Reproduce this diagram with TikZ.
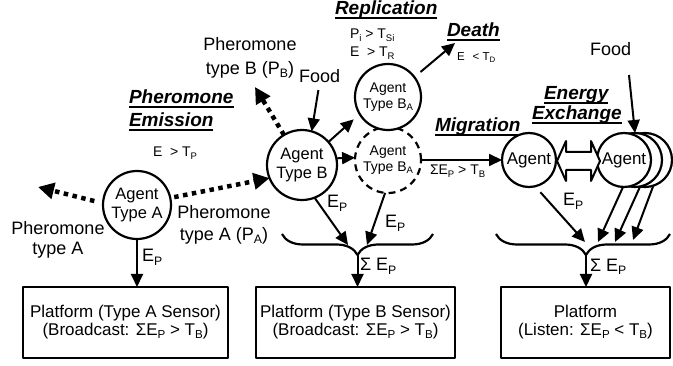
\documentclass[tikz,border=0pt]{standalone}
\usepackage{graphicx}
\usepackage{fontspec}
\setmainfont{Liberation Sans}
\usetikzlibrary{arrows.meta,decorations.pathreplacing,calc}
\newcommand\myul[1]{\setbox0=\hbox{#1}\leavevmode\rlap{\raisebox{-4.2pt}{\rule{\wd0}{1.7pt}}}\box0}
\newcommand\sbx[1]{\raisebox{-0.17em}{\scalebox{0.68}{#1}}}
\begin{document}
\begin{tikzpicture}[x=1pt,y=-1pt,line join=round,
  every node/.style={inner sep=0pt,outer sep=0pt},
  agent/.style={circle,draw,line width=2.2pt,fill=white,align=center},
  plat/.style={draw,line width=2.2pt,align=center,font=\fontsize{17}{18}\selectfont},
  arr/.style={line width=2pt,-{Triangle[length=13pt,width=12pt]}},
  dotarr/.style={line width=4.5pt,dash pattern=on 4.5pt off 4.5pt,-{Triangle[length=16pt,width=16pt]}},
  lab/.style={font=\fontsize{18}{20}\selectfont,align=center},
  act/.style={font=\fontsize{19}{23}\selectfont\bfseries\itshape,anchor=base west},
  cond/.style={font=\fontsize{14}{16}\selectfont,anchor=base west},
  ep/.style={font=\fontsize{18}{20}\selectfont,anchor=base west},
  bracestyle/.style={line width=2.2pt,decorate,decoration={brace,amplitude=21pt,mirror}}
]
\useasboundingbox (0,0) rectangle (673,366);

% agents
\node[agent,minimum size=68pt,font=\fontsize{16.5}{19}\selectfont] (A) at (137,205) {Agent\\Type A};
\node[agent,minimum size=70pt,font=\fontsize{16.5}{19}\selectfont] (B) at (302,165) {Agent\\Type B};
\node[agent,dash pattern=on 7pt off 5pt,minimum size=66pt,font=\fontsize{14}{16}\selectfont] (D) at (388,160) {Agent\\Type B\sbx{A}};
\node[agent,minimum size=66pt,font=\fontsize{14}{16}\selectfont] (BA) at (388,97) {Agent\\Type B\sbx{A}};
\node[agent,minimum size=54pt] (c3) at (645,160) {};
\node[agent,minimum size=54pt] (c2) at (635,160) {};
\node[agent,minimum size=54pt,font=\fontsize{17}{19}\selectfont] (G2) at (624,160) {Agent};
\node[agent,minimum size=54pt,font=\fontsize{17}{19}\selectfont] (G1) at (529,160) {Agent};

% platforms
\node[plat,minimum width=205pt,minimum height=71pt] (PA) at (125.5,322.5) {Platform (Type A Sensor)\\ (Broadcast: ΣE\sbx{P} > T\sbx{B})};
\node[plat,minimum width=199pt,minimum height=71pt] (PB) at (355.5,322.5) {Platform (Type B Sensor)\\(Broadcast: ΣE\sbx{P} > T\sbx{B})};
\node[plat,minimum width=169pt,minimum height=71pt] (PC) at (585.5,322.5) {Platform\\(Listen: ΣE\sbx{P} < T\sbx{B})};

% labels
\node[lab] (phA) at (58,239.5) {Pheromone\\type A};
\node[lab,font=\fontsize{18}{22}\selectfont] (phAB) at (224,224.5) {Pheromone\\type A (P\sbx{A})};
\node[lab,font=\fontsize{18}{24}\selectfont] (phB) at (250,58) {Pheromone\\type B (P\sbx{B})};
\node[ep] (foodB) at (299,83) {Food};
\node[ep] (foodR) at (590,56) {Food};
\node[act] (pe1) at (129,104) {\myul{Pheromone}};
\node[act] (pe2) at (129,127) {\myul{Emission}};
\node[cond] (ctp) at (153,157) {E\hspace{0.55em}> T\sbx{P}};
\node[act] (rep) at (335,15) {\myul{Replication}};
\node[cond] (cr1) at (350,39) {P\sbx{i} > T\sbx{Si}};
\node[cond] (cr2) at (350,56.7) {E\hspace{0.55em}> T\sbx{R}};
\node[act] (death) at (447,36.7) {\myul{Death}};
\node[cond,font=\fontsize{11.5}{13}\selectfont] (cd) at (457,61) {E\hspace{0.7em}< T\sbx{D}};
\node[act] (mig) at (435,131.7) {\myul{Migration}};
\node[act] (en1) at (544,100) {\myul{Energy}};
\node[act] (en2) at (532,120) {\myul{Exchange}};
\node[cond] (cmig) at (430,175) {ΣE\sbx{P} > T\sbx{B}};
\node[ep] (epA) at (142,262) {E\sbx{P}};
\node[ep] (epB1) at (327,208) {E\sbx{P}};
\node[ep] (epB2) at (385,228) {E\sbx{P}};
\node[ep] (epR) at (563,206) {E\sbx{P}};
\node[ep] (sum1) at (360,271) {Σ E\sbx{P}};
\node[ep] (sum2) at (590,271.5) {Σ E\sbx{P}};

% free ends
\coordinate (paL) at (38,187);
\coordinate (pbT) at (255,87);
\coordinate (deathEnd) at (455,43);
\coordinate (frS) at (629,75);
\coordinate (b1) at (348,245);
\coordinate (b2) at (367,245);
\coordinate (r1) at (585,242);
\coordinate (r2) at (598,242);
\coordinate (r3) at (615,242);
\coordinate (r4) at (633,240);
\coordinate (t1) at (357.5,255);
\coordinate (t2) at (586,255);

% braces
\draw[bracestyle] (282,234) -- (433,234);
\draw[bracestyle,decoration={aspect=0.517}] (496,234) -- (670,234);

% dotted pheromone arrows
\draw[dotarr,shorten <=9pt] (A.177) -- (paL);
\draw[dotarr,shorten <=4pt] (A.12) -- (B.202);
\draw[dotarr] (B.121) -- (pbT);

% solid arrows
\draw[arr] (A.south) -- (A.south |- PA.north);
\draw[arr,shorten <=7pt] (foodB.south) -- (B.74.5);
\draw[arr,shorten >=8pt] (B.41.5) -- (BA.211);
\draw[arr] (B.11.5) -- (D.176.5);
\draw[arr,shorten <=8pt] (BA.37) -- (deathEnd);
\draw[arr] (B.-69.6) -- (b1);
\draw[arr] (D.-95) -- (b2);
\draw[arr] (D.east) -- (G1.west);
\draw[arr] (frS) -- (c2.north);
\draw[arr,shorten <=8pt] (G1.-77) -- (r1);
\draw[arr] (G2.-92) -- (r2);
\draw[arr] (c2.-79) -- (r3);
\draw[arr] (c3.-72) -- (r4);
\draw[arr] (t1) -- (t1 |- PB.north);
\draw[arr] (t2) -- (t2 |- PC.north);

% energy exchange double arrow
\draw[line width=2pt,fill=white] (G1.east) ++(1,1) -- ++(9,-20) -- ++(0,11) -- ++(25,0) -- ++(0,-11) -- ++(9,20) -- ++(-9,20) -- ++(0,-11) -- ++(-25,0) -- ++(0,11) -- cycle;
\end{tikzpicture}
\end{document}
